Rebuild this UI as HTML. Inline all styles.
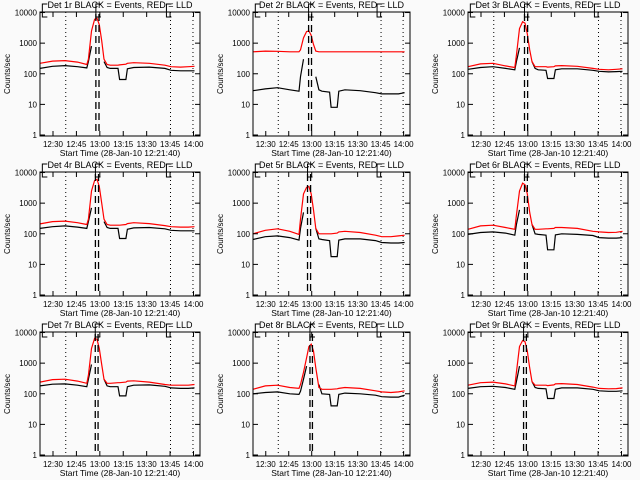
<!DOCTYPE html>
<html><head><meta charset="utf-8"><style>
html,body{margin:0;padding:0;background:#fafafa;}
svg{display:block;font-family:"Liberation Sans",sans-serif;}
</style></head><body>
<svg id="chart" width="640" height="480" viewBox="0 0 640 480" xmlns="http://www.w3.org/2000/svg"></svg>
<script>
// minutes since 12:21:40
const times = [0,8,16,24,30,31,33,35,36.5,38,39.5,41,43,45,50,51,55,56,60,70,80,84,90,95,99];
const tickLabels = ["12:30","12:45","13:00","13:15","13:30","13:45","14:00"];
const tickMinutes = [8.33,23.33,38.33,53.33,68.33,83.33,98.33];
const yTickLabels = ["1","10","100","1000","10000"];
const yTickValues = [1,10,100,1000,10000];
const dottedT = [16.5,83.6,98];
const panelNames = ["Det 1r","Det 2r","Det 3r","Det 4r","Det 5r","Det 6r","Det 7r","Det 8r","Det 9r"];
const dashT = [[35.8,37.8],[36.3,38.2],[36.2,38.2],[35.5,37.5],[35.6,37.6],[36.2,38],[35.4,37.2],[37.2,38.8],[35.6,37.4]];
const red1 = [220,260,270,240,200,300,2500,6000,6500,4000,1200,300,200,190,190,195,205,220,230,220,190,170,165,170,175];
const black1 = [150,175,185,170,155,250,800,null,null,null,null,250,160,150,150,65,65,145,160,165,150,130,125,125,125];
const red2 = [520,550,540,520,520,600,1500,2400,2500,1800,900,550,520,520,520,520,520,520,520,520,520,520,520,520,520];
const black2 = [28,32,35,30,27,80,300,null,null,null,null,80,30,27,25,8,8,27,30,28,24,22,22,22,24];
const red3 = [170,210,220,180,160,400,3000,5000,4500,2000,600,250,170,170,170,165,170,180,185,175,150,140,135,140,145];
const black3 = [140,160,170,150,135,250,700,null,null,null,null,250,150,135,130,70,70,135,145,145,130,120,115,118,120];
const red4 = [210,250,260,230,200,300,2500,5500,6000,3500,1000,300,200,190,190,190,200,215,230,215,185,170,165,165,170];
const black4 = [150,170,180,165,150,250,700,null,null,null,null,250,160,150,150,70,70,140,155,160,145,130,125,125,125];
const red5 = [100,130,145,120,95,300,2000,3300,3500,2000,600,150,100,100,100,100,105,115,120,110,90,80,80,85,90];
const black5 = [65,80,85,75,62,150,500,null,null,null,null,150,68,65,60,18,18,62,68,68,60,52,50,50,52];
const red6 = [140,180,190,160,140,400,2500,4500,4000,2000,500,200,140,140,145,145,150,160,160,150,120,115,110,112,120];
const black6 = [95,110,115,105,90,200,600,null,null,null,null,200,100,95,90,30,30,92,100,95,88,75,72,72,75];
const red7 = [240,290,300,260,220,400,3000,6500,6000,3000,900,300,220,220,230,230,240,260,265,240,200,190,190,190,200];
const black7 = [180,205,210,190,170,300,900,null,null,null,null,300,180,170,170,85,85,170,190,195,175,155,150,150,155];
const red8 = [140,180,190,160,150,200,500,1500,3500,4200,2500,700,160,140,140,140,145,150,160,150,125,115,110,115,125];
const black8 = [100,110,115,100,95,120,300,800,null,null,null,null,200,100,95,40,40,95,105,100,90,80,78,78,90];
const red9 = [190,230,240,210,180,500,3500,5500,5000,2500,700,250,190,190,190,185,195,210,215,200,165,150,145,148,155];
const black9 = [150,170,175,160,140,250,800,null,null,null,null,250,160,150,145,70,70,140,155,155,140,125,120,120,125];
const reds = [red1,red2,red3,red4,red5,red6,red7,red8,red9];
const blacks = [black1,black2,black3,black4,black5,black6,black7,black8,black9];

const NS = "http://www.w3.org/2000/svg";
const svg = document.getElementById("chart");
const colX = [[40,200],[253,410],[468,628]];
const T0 = 0, T1 = 102.5;
function mk(tag, attrs, parent){const e=document.createElementNS(NS,tag);for(const k in attrs)e.setAttribute(k,attrs[k]);parent.appendChild(e);return e;}

for(let p=0;p<9;p++){
  const r=Math.floor(p/3), c=p%3;
  const x0=colX[c][0], x1=colX[c][1], yT=12+r*160, yB=136+r*160;
  const xs = t => x0 + (t-T0)/(T1-T0)*(x1-x0);
  const ys = v => yB - Math.log10(v)/4.05*(yB-yT) - 1;
  const g = mk("g",{},svg);
  
  
  const title = mk("text",{x:(x0+x1)/2,y:yT-4,"text-anchor":"middle","font-size":"9"},g);
  title.textContent = panelNames[p]+" BLACK = Events, RED = LLD";
  
  
  dottedT.forEach(t=>{
    const l=mk("line",{x1:xs(t),x2:xs(t),y1:yT,y2:yB,stroke:"#000","stroke-dasharray":"1,3","stroke-width":"1"},g);
    
    
  });
  [1.5,dashT[p][0],81].forEach(t=>{
    const b=mk("path",{d:`M${xs(t)+5},${yT-8} L${xs(t)},${yT-8} L${xs(t)},${yT+5} L${xs(t)+5},${yT+5}`,fill:"none",stroke:"#000","stroke-width":"1"},g);
    
    
  });
  const drawSeries=(vals,color,name)=>{
    let d="",pen=false;
    vals.forEach((v,i)=>{
      if(v===null){pen=false;return;}
      d+=(pen?"L":"M")+xs(times[i]).toFixed(1)+","+ys(v).toFixed(1)+" ";pen=true;
    });
    const path=mk("path",{d:d,fill:"none",stroke:color,"stroke-width":"1.2"},g);
    
    
  };
  drawSeries(blacks[p],"#000","events-series");
  drawSeries(reds[p],"#ff0000","lld-series");
  dashT[p].forEach(t=>{
    const l=mk("line",{x1:xs(t),x2:xs(t),y1:yT+2,y2:yB-2,stroke:"#000","stroke-dasharray":"7,4","stroke-width":"1.3"},g);
    
    
  });
  const fr=mk("rect",{x:x0,y:yT,width:x1-x0,height:yB-yT,fill:"none",stroke:"#000","stroke-width":"1"},g);
  
  
  yTickValues.forEach((v,i)=>{
    const y=ys(v);
    mk("line",{x1:x0,x2:x0+5,y1:y,y2:y,stroke:"#000"},g);
    mk("line",{x1:x1-5,x2:x1,y1:y,y2:y,stroke:"#000"},g);
    const tx=mk("text",{x:x0-3,y:y+3,"text-anchor":"end","font-size":"8"},g);
    tx.textContent=yTickLabels[i];
    
    
  });
  tickMinutes.forEach((t,i)=>{
    const x=xs(t);
    mk("line",{x1:x,x2:x,y1:yB,y2:yB-5,stroke:"#000"},g);
    mk("line",{x1:x,x2:x,y1:yT,y2:yT+5,stroke:"#000"},g);
    const tx=mk("text",{x:x,y:yB+11,"text-anchor":"middle","font-size":"8"},g);
    tx.textContent=tickLabels[i];
    
    
  });
  const xt=mk("text",{x:(x0+x1)/2,y:yB+20,"text-anchor":"middle","font-size":"8.5"},g);
  xt.textContent="Start Time (28-Jan-10 12:21:40)";
  
  
  const yx=x0-30, yy=(yT+yB)/2;
  const yt=mk("text",{x:yx,y:yy,"text-anchor":"middle","font-size":"8",transform:`rotate(-90 ${yx} ${yy})`},g);
  yt.textContent="Counts/sec";
  
  
}
</script>
</body></html>
